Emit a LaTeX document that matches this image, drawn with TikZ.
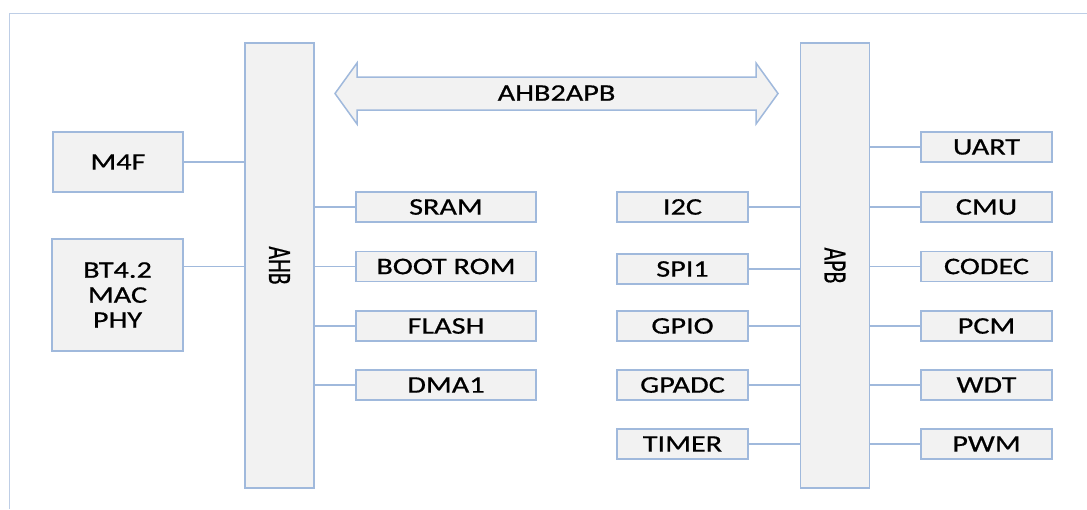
\documentclass[tikz,border=0pt]{standalone}
\usepackage{fontspec}
\usepackage{graphicx}
\setmainfont{Carlito}[FakeStretch=1.27,FakeBold=0.6]
\newfontfamily\rotfont{Carlito}[FakeBold=0.6]
\definecolor{edgec}{RGB}{160,185,220}
\definecolor{boxfill}{RGB}{242,242,242}
\definecolor{framec}{RGB}{190,206,230}
\begin{document}
\begin{tikzpicture}[x=1pt,y=-1pt,
  blk/.style={draw=edgec, fill=boxfill, line width=1.8pt, inner sep=0pt,
    font=\fontsize{23.8}{25}\selectfont, text=black, align=center},
  small/.style={blk, minimum width=131pt, minimum height=30pt},
  mid/.style={blk, minimum width=180pt, minimum height=30pt},
  bus/.style={blk, minimum width=69pt, minimum height=445pt},
  wire/.style={draw=edgec, line width=1.8pt}
]
\useasboundingbox (0,0) rectangle (1087,509);
% outer frame
\draw[framec, line width=1.5pt] (1087,13.5) -- (9.5,13.5) -- (9.5,509);

% buses
\node[bus] (ahb) at (279.5,265.5) {\rotatebox{-90}{\rotfont\fontsize{23.8}{25}\selectfont\scalebox{0.92}[1.37]{AHB}}};
\node[bus] (apb) at (835,265.5) {\rotatebox{-90}{\rotfont\fontsize{23.8}{25}\selectfont\scalebox{0.92}[1.37]{APB}}};

% bridge arrow
\draw[draw=edgec, fill=boxfill, line width=1.5pt]
  (335,93.5) -- (357,63) -- (357,77) -- (756,77) -- (756,63) -- (778,93.5)
  -- (756,124) -- (756,110) -- (357,110) -- (357,124) -- cycle;
\node[font=\fontsize{23.8}{25}\selectfont, inner sep=0pt] (bridge) at (556.5,93) {AHB2APB};

% masters
\node[blk, minimum width=130pt, minimum height=60pt] (m4f) at (118,162) {M4F};
\node[blk, minimum width=131pt, minimum height=112pt] (bt) at (117.5,295) {BT4.2\\MAC\\PHY};

% AHB slaves
\node[mid] (sram) at (446,207) {SRAM};
\node[mid] (boot) at (446,266.5) {BOOT ROM};
\node[mid] (flash) at (446,326) {FLASH};
\node[mid] (dma) at (446,385) {DMA1};

% APB left
\node[small] (i2c) at (682.5,207) {I2C};
\node[small] (spi) at (682.5,269) {SPI1};
\node[small] (gpio) at (682.5,326) {GPIO};
\node[small] (gpadc) at (682.5,385) {GPADC};
\node[small] (timer) at (682.5,444) {TIMER};

% APB right
\node[small] (uart) at (986.5,147) {UART};
\node[small] (cmu) at (986.5,207) {CMU};
\node[small] (codec) at (986.5,266.5) {CODEC};
\node[small] (pcm) at (986.5,326) {PCM};
\node[small] (wdt) at (986.5,385) {WDT};
\node[small] (pwm) at (986.5,444) {PWM};

% wires
\draw[wire] (m4f.east) -- (m4f.east -| ahb.west);
\draw[wire] (bt.east |- boot.west) -- (ahb.west |- boot.west);
\foreach \n in {sram,boot,flash,dma} \draw[wire] (ahb.east |- \n.west) -- (\n.west);
\foreach \n in {i2c,spi,gpio,gpadc,timer} \draw[wire] (\n.east) -- (\n.east -| apb.west);
\foreach \n in {uart,cmu,codec,pcm,wdt,pwm} \draw[wire] (apb.east |- \n.west) -- (\n.west);
\end{tikzpicture}
\end{document}
